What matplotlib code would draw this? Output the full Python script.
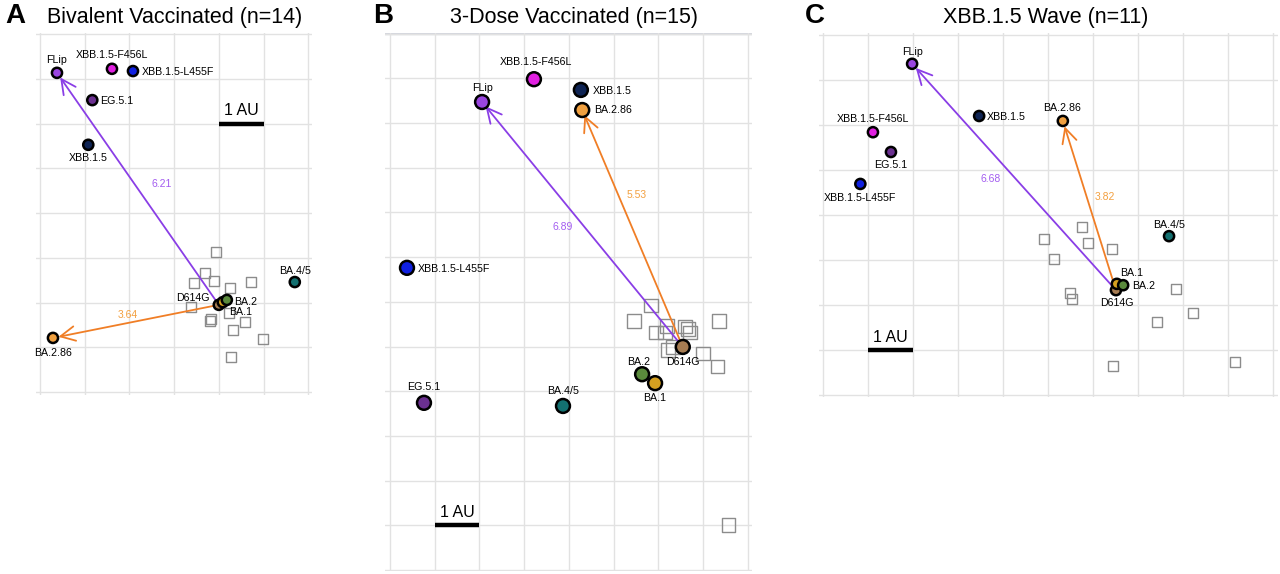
import matplotlib
matplotlib.use("Agg")
import matplotlib.pyplot as plt

plt.rcParams['font.family'] = ['Liberation Sans', 'DejaVu Sans']

W, H = 1280, 574

antigens = ['D614G', 'BA.1', 'BA.2', 'BA.4/5', 'XBB.1.5', 'EG.5.1',
            'XBB.1.5-F456L', 'XBB.1.5-L455F', 'FLip', 'BA.2.86']
antigen_colors = ['#a67c52', '#d4a020', '#5a8a3c', '#137070', '#0f2454', '#6b3090',
                  '#e020e0', '#1020e0', '#9a45e0', '#f0a040']

# antigenic map coordinates (AU)
A_x = [4.00, 4.09, 4.18, 5.70, 1.08, 1.17, 1.61, 2.08, 0.38, 0.29]
A_y = [1.95, 2.01, 2.06, 2.46, 5.53, 6.53, 7.23, 7.18, 7.14, 1.21]
A_sera_x = [3.94, 3.69, 3.44, 3.89, 4.25, 4.72, 3.38, 4.23, 3.83, 3.80, 4.59, 4.32, 4.99, 4.27]
A_sera_y = [3.13, 2.66, 2.44, 2.48, 2.33, 2.46, 1.90, 1.77, 1.63, 1.59, 1.57, 1.39, 1.19, 0.78]

B_x = [6.55, 5.93, 5.64, 3.87, 4.27, 0.76, 3.22, 0.38, 2.06, 4.30]
B_y = [4.99, 4.18, 4.38, 3.67, 10.74, 3.74, 10.98, 6.76, 10.47, 10.29]
B_sera_x = [5.84, 5.46, 5.95, 6.20, 6.15, 6.60, 6.67, 6.71, 6.33, 6.22, 7.00, 7.36, 7.32, 7.58]
B_sera_y = [5.91, 5.57, 5.32, 5.46, 5.32, 5.44, 5.39, 5.32, 4.99, 4.92, 4.85, 5.57, 4.56, 1.01]

C_x = [6.51, 6.53, 6.67, 7.69, 3.47, 1.51, 1.11, 0.83, 1.98, 5.33]
C_y = [2.33, 2.47, 2.44, 3.53, 6.20, 5.40, 5.84, 4.69, 7.36, 6.09]
C_sera_x = [5.76, 4.91, 5.89, 6.42, 5.13, 5.49, 5.53, 7.84, 8.22, 7.42, 6.44, 9.16]
C_sera_y = [3.73, 3.47, 3.38, 3.24, 3.02, 2.27, 2.13, 2.36, 1.82, 1.62, 0.64, 0.73]

# distances from D614G (AU)
A_dist = {'FLip': 6.21, 'BA.2.86': 3.64}
B_dist = {'FLip': 6.89, 'BA.2.86': 5.53}
C_dist = {'FLip': 6.68, 'BA.2.86': 3.82}

titles = ['Bivalent Vaccinated (n=14)', '3-Dose Vaccinated (n=15)', 'XBB.1.5 Wave (n=11)']
letters = ['A', 'B', 'C']

ARROW_COLORS = {'FLip': ('#8a3ee6', '#a35cf0'), 'BA.2.86': ('#f07e26', '#f3a040')}

# label placement: (dx, dy, ha, va) in pixels
A_lab = {'D614G': (-9, 7, 'right', 'center'), 'BA.1': (6, -10, 'left', 'center'),
         'BA.2': (7, -2, 'left', 'center'), 'BA.4/5': (0, 11, 'center', 'center'),
         'XBB.1.5': (0, -13, 'center', 'center'), 'EG.5.1': (8, -1, 'left', 'center'),
         'XBB.1.5-F456L': (0, 14, 'center', 'center'), 'XBB.1.5-L455F': (9, -1, 'left', 'center'),
         'FLip': (0, 13, 'center', 'center'), 'BA.2.86': (0, -15, 'center', 'center')}
B_lab = {'D614G': (0, -15, 'center', 'center'), 'BA.1': (0, -15, 'center', 'center'),
         'BA.2': (-3, 12, 'center', 'center'), 'BA.4/5': (0, 15, 'center', 'center'),
         'XBB.1.5': (12, -1, 'left', 'center'), 'EG.5.1': (0, 16, 'center', 'center'),
         'XBB.1.5-F456L': (2, 17, 'center', 'center'), 'XBB.1.5-L455F': (11, -1, 'left', 'center'),
         'FLip': (0, 14, 'center', 'center'), 'BA.2.86': (12, 0, 'left', 'center')}
C_lab = {'D614G': (1, -13, 'center', 'center'), 'BA.1': (3, 11, 'left', 'center'),
         'BA.2': (9, -1, 'left', 'center'), 'BA.4/5': (0, 11, 'center', 'center'),
         'XBB.1.5': (8, -1, 'left', 'center'), 'EG.5.1': (0, -13, 'center', 'center'),
         'XBB.1.5-F456L': (0, 13, 'center', 'center'), 'XBB.1.5-L455F': (0, -14, 'center', 'center'),
         'FLip': (0, 12, 'center', 'center'), 'BA.2.86': (-1, 13, 'center', 'center')}

# distance label placement: fraction along arrow, pixel offset
A_dlab = {'FLip': (0.52, 27, 0), 'BA.2.86': (0.55, 0, 8)}
B_dlab = {'FLip': (0.49, -22, 0), 'BA.2.86': (0.64, 18, 0)}
C_dlab = {'FLip': (0.49, -25, 0), 'BA.2.86': (0.55, 18, 0)}

# panel layout: origin pixel of AU (0,0), pixels per AU, limits
layouts = [
    dict(x0=40, y0=392, ppa=44.7, xlim=(-0.09, 6.08), ylim=(-0.07, 8.03),
         bar=(4, 6.0), msize=7.3, sqsize=7.0, title_x=175, letter_x=5),
    dict(x0=390, y0=570, ppa=44.7, xlim=(-0.12, 8.1), ylim=(-0.03, 12.02),
         bar=(1, 1.0), msize=10.0, sqsize=9.6, title_x=574, letter_x=373),
    dict(x0=823, y0=395, ppa=45.0, xlim=(-0.1, 10.1), ylim=(-0.05, 8.05),
         bar=(1, 1.0), msize=7.3, sqsize=7.0, title_x=1046, letter_x=805),
]

panels = [
    (A_x, A_y, A_sera_x, A_sera_y, A_dist, A_lab, A_dlab),
    (B_x, B_y, B_sera_x, B_sera_y, B_dist, B_lab, B_dlab),
    (C_x, C_y, C_sera_x, C_sera_y, C_dist, C_lab, C_dlab),
]

fig = plt.figure(figsize=(W / 100, H / 100), dpi=100)

for i, (lay, (xs, ys, sx, sy, dist, lab, dlab)) in enumerate(zip(layouts, panels)):
    ppa = lay['ppa']
    left = lay['x0'] + lay['xlim'][0] * ppa
    right = lay['x0'] + lay['xlim'][1] * ppa
    top = lay['y0'] - lay['ylim'][1] * ppa
    bottom = lay['y0'] - lay['ylim'][0] * ppa
    ax = fig.add_axes([left / W, 1 - bottom / H, (right - left) / W, (bottom - top) / H])
    ax.set_xlim(*lay['xlim'])
    ax.set_ylim(*lay['ylim'])
    ax.set_xticks(range(int(lay['xlim'][0]) , int(lay['xlim'][1]) + 1))
    ax.set_yticks(range(int(lay['ylim'][0]), int(lay['ylim'][1]) + 1))
    ax.grid(True, color='#e2e2e2', lw=1.0)
    ax.set_axisbelow(True)
    ax.tick_params(length=0, labelbottom=False, labelleft=False)
    for s in ax.spines.values():
        s.set_visible(False)
    if i == 1:
        ax.axhline(lay['ylim'][1], color='#d4d6de', lw=2.5, zorder=0.5)

    ax.scatter(sx, sy, marker='s', s=lay['sqsize'] ** 2, facecolors='none',
               edgecolors='#8c8c8c', linewidths=1.0, zorder=2)

    d_idx = antigens.index('D614G')
    ox, oy = xs[d_idx], ys[d_idx]
    for name, val in dist.items():
        j = antigens.index(name)
        lc, tc = ARROW_COLORS[name]
        ax.annotate('', xy=(xs[j], ys[j]), xytext=(ox, oy),
                    arrowprops=dict(arrowstyle='->,head_length=0.7,head_width=0.35',
                                    color=lc, lw=1.3, shrinkA=0, shrinkB=4,
                                    mutation_scale=15), zorder=3)
        t, dx, dy = dlab[name]
        ax.annotate(f"{val:.2f}", xy=(ox + t * (xs[j] - ox), oy + t * (ys[j] - oy)),
                    xytext=(dx, dy), textcoords='offset pixels', ha='center', va='center',
                    fontsize=7.5, color=tc, zorder=5)

    ax.scatter(xs, ys, s=lay['msize'] ** 2, c=antigen_colors, edgecolors='black',
               linewidths=1.8, zorder=4)
    for name, x, y in zip(antigens, xs, ys):
        dx, dy, ha, va = lab[name]
        ax.annotate(name, xy=(x, y), xytext=(dx, dy), textcoords='offset pixels',
                    ha=ha, va=va, fontsize=7.7, color='black', zorder=6)

    bx, by = lay['bar']
    ax.plot([bx, bx + 1], [by, by], color='black', lw=3.2, solid_capstyle='butt', zorder=5)
    ax.text(bx + 0.5, by + 0.12, '1 AU', ha='center', va='bottom', fontsize=11.5)

    fig.text(lay['letter_x'] / W, 1 - 16 / H, letters[i], fontsize=20, fontweight='bold',
             ha='left', va='center')
    fig.text(lay['title_x'] / W, 1 - 17 / H, titles[i], fontsize=15.5, ha='center', va='center')

fig.savefig('out.png', dpi=100)
